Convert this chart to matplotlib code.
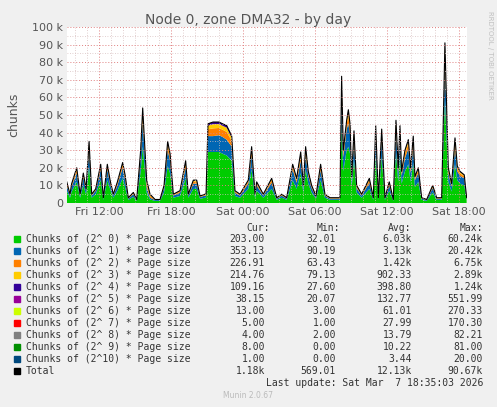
import numpy as np
import matplotlib
matplotlib.use("Agg")
from matplotlib import pyplot as plt

# hours since Fri 00:00, values in thousands
hours = [9.31, 9.58, 9.72, 10.14, 10.42, 10.69, 10.92, 11.17, 11.39, 11.72, 12.14, 12.36, 12.69, 12.92, 13.19,
         13.53, 13.97, 14.17, 14.44, 14.86, 15.14, 15.47, 15.64, 15.83, 15.97, 16.25, 16.67, 17.08, 17.42, 17.72,
         17.92, 18.19, 18.75, 19.22, 19.44, 19.86, 20.14, 20.42, 20.83, 20.92, 21.08, 21.5, 22.0, 22.3, 22.64,
         23.06, 23.33, 23.75, 24.44, 24.72, 25.0, 25.14, 25.69, 26.39, 26.81, 27.22, 27.64, 28.14, 28.47, 28.81,
         29.03, 29.22, 29.44, 29.72, 30.08, 30.47, 30.83, 31.25, 31.81, 32.08, 32.22, 32.36, 32.64, 32.78, 32.92,
         33.06, 33.25, 33.47, 33.89, 34.53, 34.86, 35.06, 35.28, 35.56, 35.83, 36.19, 36.53, 36.75, 36.94, 37.08,
         37.22, 37.5, 37.78, 37.97, 38.19, 38.33, 38.61, 38.89, 39.31, 39.81, 40.14, 40.56, 40.83, 41.11, 41.39,
         41.67, 41.86, 42.08, 42.44, 42.64]
total = [12, 5, 11, 20, 5, 17, 8, 35, 5, 8, 22, 3, 22, 13, 5,
         12, 23, 16, 3, 6, 2, 30, 54, 30, 13, 5, 2, 2, 10, 35,
         28, 5, 7, 24, 5, 13, 13, 4, 5, 5, 45, 46, 46, 45, 44,
         38, 7, 5, 13, 32, 5, 12, 5, 14, 3, 5, 3, 22, 14, 29,
         10, 32, 18, 10, 4, 22, 5, 3, 3, 3, 72, 30, 47, 53, 45,
         15, 41, 10, 5, 14, 3, 44, 3, 42, 3, 12, 2, 47, 20, 44,
         18, 30, 36, 20, 38, 15, 20, 3, 2, 10, 3, 3, 91, 20, 11,
         37, 21, 18, 16, 3]
green = [7, 3, 6.5, 12, 3, 10, 5, 21, 3, 5, 13, 1.8, 13, 8, 3,
         7, 14, 9, 1.8, 3.5, 1.2, 18, 32, 18, 6, 2, 1.2, 1.2, 6, 21,
         17, 3, 4, 14, 3, 8, 8, 2.4, 3, 3, 29, 29, 29, 28, 27,
         24, 4, 3, 8, 19, 3, 7, 3, 8, 1.8, 3, 1.8, 13, 8, 17,
         6, 19, 11, 6, 2.4, 13, 3, 1.8, 1.8, 1.8, 45, 18, 30, 32, 28,
         9, 25, 6, 3, 8, 1.8, 27, 1.8, 26, 1.8, 7, 1.2, 29, 12, 27,
         11, 18, 22, 12, 23, 9, 12, 1.8, 1.2, 6, 1.8, 1.8, 60, 12, 6.5,
         22, 13, 11, 10, 1.8]
blue = [3, 1.2, 2.8, 5, 1.2, 4.5, 2, 9, 1.2, 2, 6, 0.7, 6, 3, 1.2,
        3, 6, 4, 0.7, 1.5, 0.5, 8, 14, 8, 3, 1, 0.5, 0.5, 2.5, 9,
        7, 1.2, 1.8, 6, 1.2, 3, 3, 1, 1.2, 1.2, 9, 9, 9.5, 9.5, 9,
        8, 1.8, 1.2, 3, 8, 1.2, 3, 1.2, 3.5, 0.7, 1.2, 0.7, 6, 3.5, 7,
        2.5, 8, 4.5, 2.5, 1, 5.5, 1.2, 0.7, 0.7, 0.7, 17, 8, 12, 13, 11,
        4, 10, 2.5, 1.2, 3.5, 0.7, 11, 0.7, 10, 0.7, 3, 0.5, 12, 5, 11,
        4.5, 7.5, 9, 5, 9.5, 4, 5, 0.7, 0.5, 2.5, 0.7, 0.7, 20, 5, 2.8,
        9, 5, 4.5, 4, 0.7]
rest_shares = [0.55, 0.30, 0.15]  # orange, yellow, indigo part of remainder

names = ["Chunks of (2^ 0) * Page size", "Chunks of (2^ 1) * Page size", "Chunks of (2^ 2) * Page size",
         "Chunks of (2^ 3) * Page size", "Chunks of (2^ 4) * Page size", "Chunks of (2^ 5) * Page size",
         "Chunks of (2^ 6) * Page size", "Chunks of (2^ 7) * Page size", "Chunks of (2^ 8) * Page size",
         "Chunks of (2^ 9) * Page size", "Chunks of (2^10) * Page size", "Total"]
colors = ["#00cc00", "#0066b3", "#ff8000", "#ffcc00", "#330099", "#990099",
          "#ccff00", "#ff0000", "#808080", "#008f00", "#00487d", "#000000"]
cur = ["203.00", "353.13", "226.91", "214.76", "109.16", "38.15", "13.00", "5.00", "4.00", "8.00", "1.00", "1.18k"]
mins = ["32.01", "90.19", "63.43", "79.13", "27.60", "20.07", "3.00", "1.00", "2.00", "0.00", "0.00", "569.01"]
avgs = ["6.03k", "3.13k", "1.42k", "902.33", "398.80", "132.77", "61.01", "27.99", "13.79", "10.22", "3.44", "12.13k"]
maxs = ["60.24k", "20.42k", "6.75k", "2.89k", "1.24k", "551.99", "270.33", "170.30", "82.21", "81.00", "20.00", "90.67k"]

h = np.array(hours)
tot = np.array(total) * 1000
g = np.array(green) * 1000
b = np.array(blue) * 1000
rem = tot - g - b
layers = [g, b] + [rem * s for s in rest_shares]

fig = plt.figure(figsize=(4.97, 4.07), dpi=100, facecolor="#f0f0f0")
ax = fig.add_axes([67 / 497, 204 / 407, 400 / 497, 176 / 407])
ax.set_facecolor("white")
ax.stackplot(h, layers, colors=colors[:5], linewidth=0)
ax.plot(h, tot, color="black", lw=0.8)
ax.set_xlim(9.33, 42.67)
ax.set_ylim(0, 100000)
ax.set_yticks(np.arange(0, 100001, 10000))
ax.set_yticklabels(["0"] + [f"{v} k" for v in range(10, 101, 10)])
ax.set_xticks([12, 18, 24, 30, 36, 42])
ax.set_xticklabels(["Fri 12:00", "Fri 18:00", "Sat 00:00", "Sat 06:00", "Sat 12:00", "Sat 18:00"])
ax.set_xticks(np.arange(10, 43, 1), minor=True)
ax.set_yticks(np.arange(5000, 100000, 10000), minor=True)
ax.grid(which="major", color="#e08080", ls=(0, (1, 2)), lw=0.7)
ax.grid(which="minor", color="#d8c0c0", ls=(0, (1, 2)), lw=0.6)
ax.set_axisbelow(False)
for s in ax.spines.values():
    s.set_visible(False)
ax.tick_params(labelsize=8, colors="#555555", length=0, pad=3)
ax.tick_params(which="minor", length=0)
ax.set_ylabel("chunks", fontsize=9, color="#555555", labelpad=8)
fig.text(0.5, 1 - 20 / 407, "Node 0, zone DMA32 - by day", ha="center", va="center", fontsize=10, color="#555555")
fig.text(490 / 497, 1 - 55 / 407, "RRDTOOL / TOBI OETIKER", rotation=270, ha="center", va="center",
         fontsize=5, color="#c0c0c0")

mono = dict(family="DejaVu Sans Mono", fontsize=7.0, color="#333333", va="center")
for x, lab in [(258, "Cur:"), (328, "Min:"), (400, "Avg:"), (471, "Max:")]:
    fig.text(x / 497, 1 - 228 / 407, lab, ha="center", **mono)
for i, name in enumerate(names):
    y = 1 - (239 + 12 * i) / 407
    fig.patches.append(plt.Rectangle((14 / 497, y - 3 / 407), 6 / 497, 6 / 407, color=colors[i],
                                     transform=fig.transFigure, figure=fig))
    fig.text(26 / 497, y, name, ha="left", **mono)
    fig.text(265 / 497, y, cur[i], ha="right", **mono)
    fig.text(336 / 497, y, mins[i], ha="right", **mono)
    fig.text(412 / 497, y, avgs[i], ha="right", **mono)
    fig.text(483 / 497, y, maxs[i], ha="right", **mono)
fig.text(483 / 497, 1 - 383 / 407, "Last update: Sat Mar  7 18:35:03 2026", ha="right", **mono)
fig.text(248 / 497, 1 - 396 / 407, "Munin 2.0.67", ha="center", va="center", fontsize=5.5, color="#bbbbbb")

fig.savefig("out.png", dpi=100, facecolor=fig.get_facecolor())
